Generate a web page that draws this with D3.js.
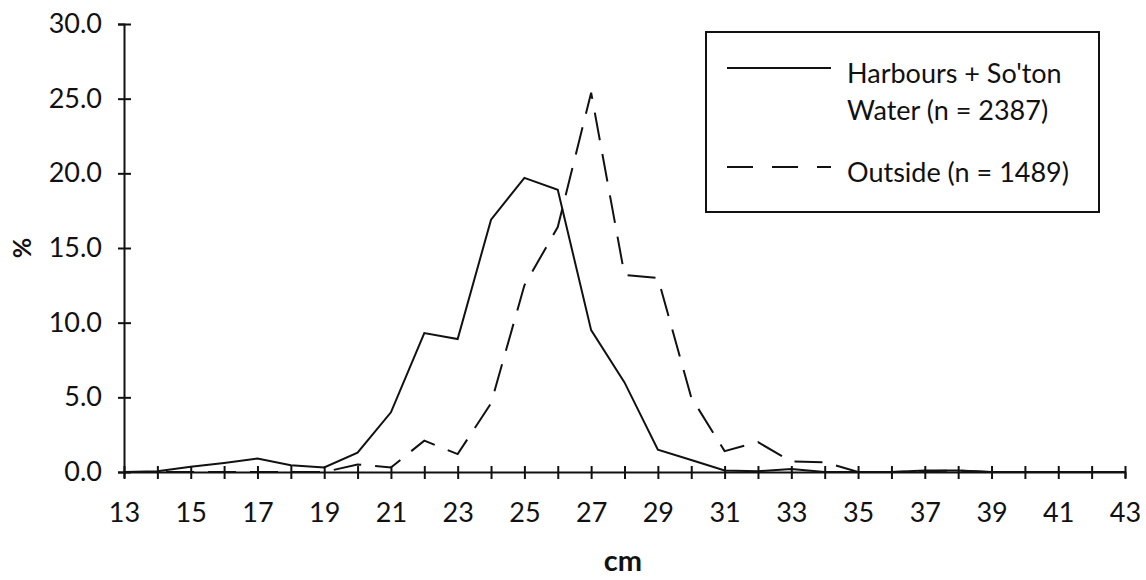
<!DOCTYPE html>
<html>
<head>
<meta charset="utf-8">
<script src="https://cdn.jsdelivr.net/npm/d3@7"></script>
<style>
  body { margin: 0; background: #fff; }
  svg text { font-family: Lato, "DejaVu Sans", sans-serif; fill: #111; }
</style>
</head>
<body>
<script>
// length classes (cm)
var lengths = [13, 14, 15, 16, 17, 18, 19, 20, 21, 22, 23, 24, 25, 26, 27, 28,
               29, 30, 31, 32, 33, 34, 35, 36, 37, 38, 39, 40, 41, 42, 43];

// % of fish in each class
var harbours = [0, 0.05, 0.35, 0.6, 0.9, 0.45, 0.3, 1.3, 4.0, 9.3, 8.9, 16.9, 19.7, 18.9, 9.5, 6.0,
                1.5, 0.8, 0.1, 0.05, 0.2, 0, 0, 0, 0.1, 0.1, 0, 0, 0, 0, 0];
var outside  = [0, 0, 0, 0, 0, 0, 0, 0.5, 0.3, 2.1, 1.2, 4.6, 12.5, 16.4, 25.4, 13.2,
                13.0, 5.0, 1.4, 2.0, 0.7, 0.65, 0, 0, 0.05, 0.1, 0, 0, 0, 0, 0];

var xTicks = [13, 15, 17, 19, 21, 23, 25, 27, 29, 31, 33, 35, 37, 39, 41, 43];
var yTicks = [0, 5, 10, 15, 20, 25, 30];

var legendLabels = [["Harbours + So'ton", "Water (n = 2387)"], ["Outside (n = 1489)"]];

var width = 1146, height = 580;
var margin = {top: 24, right: 21, bottom: 108, left: 124};

var svg = d3.select("body").append("svg")
    .attr("width", width)
    .attr("height", height);

var x = d3.scaleLinear().domain([13, 43]).range([margin.left, width - margin.right]);
var y = d3.scaleLinear().domain([0, 30]).range([height - margin.bottom, margin.top]);

// y axis
var yAxis = svg.append("g")
    .attr("transform", "translate(" + margin.left + ",0)")
    .call(d3.axisLeft(y).tickValues(yTicks).tickFormat(d3.format(".1f"))
      .tickSize(6).tickPadding(16));
yAxis.select(".domain").attr("stroke-width", 2).attr("stroke", "#111");
yAxis.selectAll(".tick line").attr("x1", -6).attr("x2", 7).attr("stroke-width", 2).attr("stroke", "#111");
yAxis.selectAll(".tick text").style("font-size", "27px");

// x axis
var xAxis = svg.append("g")
    .attr("transform", "translate(0," + y(0) + ")")
    .call(d3.axisBottom(x).tickValues(lengths).tickSize(6).tickPadding(25)
      .tickFormat(function(d) { return xTicks.indexOf(d) >= 0 ? d : ""; }));
xAxis.select(".domain").attr("stroke-width", 2).attr("stroke", "#111");
xAxis.selectAll(".tick line").attr("y1", -6).attr("y2", 7).attr("stroke-width", 2).attr("stroke", "#111");
xAxis.selectAll(".tick text").style("font-size", "27px");

// axis titles
svg.append("text")
    .attr("x", 623)
    .attr("y", 571)
    .attr("text-anchor", "middle")
    .style("font-size", "29px")
    .style("font-weight", "bold")
    .text("cm");

svg.append("text")
    .attr("transform", "translate(31," + y(15) + ") rotate(-90)")
    .attr("text-anchor", "middle")
    .style("font-size", "25px")
    .style("font-weight", "bold")
    .text("%");

// lines
var line = d3.line()
    .x(function(d, i) { return x(lengths[i]); })
    .y(function(d) { return y(d); });

svg.append("path")
    .datum(harbours)
    .attr("fill", "none")
    .attr("stroke", "#111")
    .attr("stroke-width", 2)
    .attr("d", line);

svg.append("path")
    .datum(outside)
    .attr("fill", "none")
    .attr("stroke", "#111")
    .attr("stroke-width", 2)
    .attr("stroke-dasharray", "28,14")
    .attr("d", line);

// legend
var legend = svg.append("g");
legend.append("rect")
    .attr("x", 706).attr("y", 32)
    .attr("width", 393).attr("height", 180)
    .attr("fill", "none")
    .attr("stroke", "#111")
    .attr("stroke-width", 2);

legend.append("line")
    .attr("x1", 727).attr("x2", 831).attr("y1", 68).attr("y2", 68)
    .attr("stroke", "#111").attr("stroke-width", 2);
legend.append("line")
    .attr("x1", 727).attr("x2", 831).attr("y1", 167).attr("y2", 167)
    .attr("stroke", "#111").attr("stroke-width", 2)
    .attr("stroke-dasharray", "26,19");

var t1 = legend.append("text").attr("x", 847).attr("y", 83).style("font-size", "27px");
t1.append("tspan").attr("x", 847).text(legendLabels[0][0]);
t1.append("tspan").attr("x", 847).attr("dy", 37).text(legendLabels[0][1]);

legend.append("text").attr("x", 847).attr("y", 182).style("font-size", "27px")
    .text(legendLabels[1][0]);
</script>
</body>
</html>
